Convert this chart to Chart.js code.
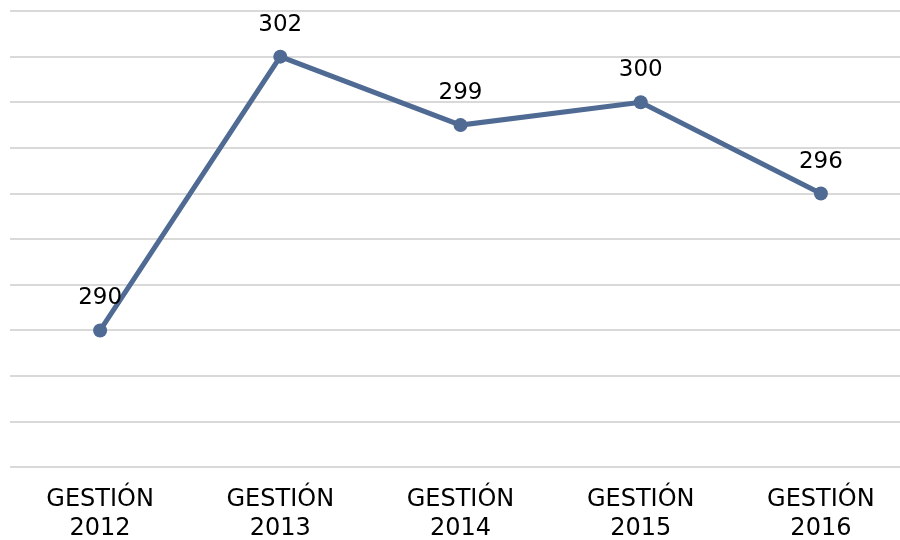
<!DOCTYPE html>
<html><head><meta charset="utf-8">
<script src="https://cdn.jsdelivr.net/npm/chart.js@4"></script>
<style>html,body{margin:0;padding:0;overflow:hidden;background:#fff;width:900px;height:540px}
#wrap{width:918px;height:553px;position:relative}</style></head>
<body><div id="wrap"><canvas id="c"></canvas></div>
<script>
const categories = [["GESTIÓN","2012"],["GESTIÓN","2013"],["GESTIÓN","2014"],["GESTIÓN","2015"],["GESTIÓN","2016"]];
const values = [290, 302, 299, 300, 296];
const yMin = 284, yMax = 304, yStep = 2;
const lineColor = '#4F6A93';

const labelPlugin = {
  id: 'vlabels',
  afterDatasetsDraw(chart) {
    const ctx = chart.ctx;
    const meta = chart.getDatasetMeta(0);
    ctx.save();
    ctx.font = '23px "DejaVu Sans"';
    ctx.fillStyle = '#000';
    ctx.textAlign = 'center';
    ctx.textBaseline = 'middle';
    meta.data.forEach((pt, i) => {
      ctx.fillText(String(values[i]), pt.x, pt.y - 32);
    });
    ctx.restore();
  }
};

new Chart(document.getElementById('c'), {
  type: 'line',
  data: { labels: categories, datasets: [{
    data: values, borderColor: lineColor, backgroundColor: lineColor,
    borderWidth: 5, pointRadius: 7, pointHoverRadius: 7,
    pointBackgroundColor: lineColor, pointBorderWidth: 0, tension: 0
  }]},
  options: {
    responsive: true, maintainAspectRatio: false, animation: false,
    layout: { padding: { left: 10, right: 0, top: 11, bottom: 0 } },
    plugins: { legend: { display: false }, tooltip: { enabled: false } },
    scales: {
      x: { offset: true, grid: { display: false }, border: { display: false },
           ticks: { color: '#000', padding: 10, maxRotation: 0,
                    font: { family: '"DejaVu Sans"', size: 24, lineHeight: 1.2 } } },
      y: { min: yMin, max: yMax, display: true,
           ticks: { display: false, stepSize: yStep },
           grid: { color: '#d9d9d9', lineWidth: 2, drawTicks: false },
           border: { display: false } }
    }
  },
  plugins: [labelPlugin]
});
</script></body></html>
